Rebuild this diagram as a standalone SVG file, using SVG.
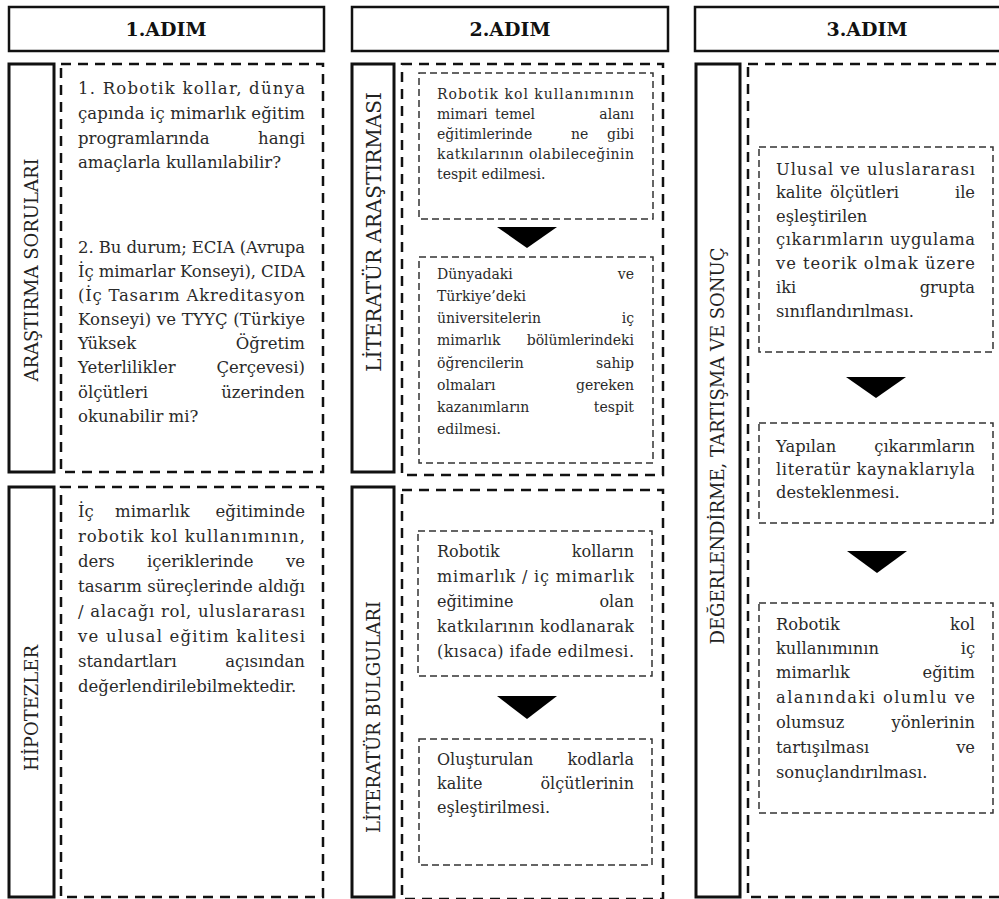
<svg xmlns="http://www.w3.org/2000/svg" width="999" height="899" viewBox="0 0 999 899">
<style>
text{font-family:"DejaVu Serif","Liberation Serif",serif;fill:#2a2a2a}
.hd{font-size:19px;font-weight:bold;text-anchor:middle;fill:#111}
.lb{font-size:18px;text-anchor:middle;fill:#222}
.a{font-size:16.5px}
.b{font-size:14px}
.c{font-size:16px}
.d{font-size:16.3px}
.e{text-anchor:end}
.hbox{fill:#fff;stroke:#111;stroke-width:2.5}
.side{fill:#fff;stroke:#111;stroke-width:3}
.outer{fill:none;stroke:#111;stroke-width:2.5;stroke-dasharray:10 7}
.inner{fill:#fff;stroke:#333;stroke-width:1.5;stroke-dasharray:7 4}
.arr{fill:#000}
</style>
<rect width="999" height="899" fill="#fff"/>

<g id="header1"><rect class="hbox" x="9" y="7" width="315" height="44"/><text class="hd" x="166" y="36">1.ADIM</text></g>
<g id="header2"><rect class="hbox" x="352" y="7" width="316" height="44"/><text class="hd" x="510" y="36">2.ADIM</text></g>
<g id="header3"><rect class="hbox" x="695" y="7" width="345" height="44"/><text class="hd" x="867" y="36">3.ADIM</text></g>

<g id="label-arastirma-sorulari"><rect class="side" x="9" y="64" width="45" height="408"/><text class="lb" transform="translate(38,270) rotate(-90)">ARAŞTIRMA SORULARI</text></g>
<g id="label-hipotezler"><rect class="side" x="9" y="487" width="45" height="410"/><text class="lb" transform="translate(38,708) rotate(-90)">HİPOTEZLER</text></g>
<g id="label-literatur-arastirmasi"><rect class="side" x="352" y="64" width="42" height="408"/><text class="lb" style="font-size:20px" transform="translate(381,232) rotate(-90)">LİTERATÜR ARAŞTIRMASI</text></g>
<g id="label-literatur-bulgulari"><rect class="side" x="352" y="487" width="42" height="410"/><text class="lb" transform="translate(380,717) rotate(-90)">LİTERATÜR BULGULARI</text></g>
<g id="label-degerlendirme"><rect class="side" x="696" y="64" width="44" height="833"/><text class="lb" transform="translate(724,446) rotate(-90)">DEĞERLENDİRME, TARTIŞMA VE SONUÇ</text></g>

<g id="sorular">
<rect class="outer" x="61" y="64" width="262" height="408"/>
<text class="a" x="78" y="94" textLength="227" lengthAdjust="spacing">1. Robotik kollar, dünya</text>
<text class="a" x="78" y="119" textLength="227" lengthAdjust="spacing">çapında iç mimarlık eğitim</text>
<text class="a" x="78" y="144">programlarında</text><text class="a e" x="305" y="144">hangi</text>
<text class="a" x="78" y="168">amaçlarla kullanılabilir?</text>
<text class="a" x="78" y="253" textLength="227" lengthAdjust="spacing">2. Bu durum; ECIA (Avrupa</text>
<text class="a" x="78" y="277" textLength="227" lengthAdjust="spacing">İç mimarlar Konseyi), CIDA</text>
<text class="a" x="78" y="301" textLength="227" lengthAdjust="spacing">(İç Tasarım Akreditasyon</text>
<text class="a" x="78" y="325" textLength="227" lengthAdjust="spacing">Konseyi) ve TYYÇ (Türkiye</text>
<text class="a" x="78" y="349">Yüksek</text><text class="a e" x="305" y="349">Öğretim</text>
<text class="a" x="78" y="373">Yeterlilikler</text><text class="a e" x="305" y="373">Çerçevesi)</text>
<text class="a" x="78" y="398">ölçütleri</text><text class="a e" x="305" y="398">üzerinden</text>
<text class="a" x="78" y="422">okunabilir mi?</text>
</g>

<g id="hipotezler">
<rect class="outer" x="61" y="487" width="262" height="410"/>
<text class="a" x="78" y="517">İç</text><text class="a" x="115" y="517">mimarlık</text><text class="a e" x="305" y="517">eğitiminde</text>
<text class="a" x="78" y="542" textLength="227" lengthAdjust="spacing">robotik kol kullanımının,</text>
<text class="a" x="78" y="567">ders</text><text class="a" x="147" y="567">içeriklerinde</text><text class="a e" x="305" y="567">ve</text>
<text class="a" x="78" y="592" textLength="227" lengthAdjust="spacing">tasarım süreçlerinde aldığı</text>
<text class="a" x="78" y="617" textLength="227" lengthAdjust="spacing">/ alacağı rol, uluslararası</text>
<text class="a" x="78" y="642" textLength="227" lengthAdjust="spacing">ve ulusal eğitim kalitesi</text>
<text class="a" x="78" y="667">standartları</text><text class="a e" x="305" y="667">açısından</text>
<text class="a" x="78" y="692">değerlendirilebilmektedir.</text>
</g>

<g id="literatur-arastirmasi">
<rect class="outer" x="402" y="64" width="261" height="411"/>
</g>
<g id="step2-a">
<rect class="inner" x="419" y="73" width="234" height="146"/>
<text class="b" x="437" y="99" textLength="197" lengthAdjust="spacing">Robotik kol kullanımının</text>
<text class="b" x="437" y="119">mimari</text><text class="b" x="495" y="119">temel</text><text class="b e" x="634" y="119">alanı</text>
<text class="b" x="437" y="139">eğitimlerinde</text><text class="b" x="571" y="139">ne</text><text class="b e" x="634" y="139">gibi</text>
<text class="b" x="437" y="159" textLength="197" lengthAdjust="spacing">katkılarının olabileceğinin</text>
<text class="b" x="437" y="179">tespit edilmesi.</text>
</g>
<g id="step2-b">
<rect class="inner" x="419" y="257" width="234" height="206"/>
<text class="b" x="437" y="279">Dünyadaki</text><text class="b e" x="634" y="279">ve</text>
<text class="b" x="437" y="301">Türkiye’deki</text>
<text class="b" x="437" y="323">üniversitelerin</text><text class="b e" x="634" y="323">iç</text>
<text class="b" x="437" y="345">mimarlık</text><text class="b e" x="634" y="345">bölümlerindeki</text>
<text class="b" x="437" y="368">öğrencilerin</text><text class="b e" x="634" y="368">sahip</text>
<text class="b" x="437" y="390">olmaları</text><text class="b e" x="634" y="390">gereken</text>
<text class="b" x="437" y="412">kazanımların</text><text class="b e" x="634" y="412">tespit</text>
<text class="b" x="437" y="434">edilmesi.</text>
</g>

<g id="literatur-bulgulari">
<rect class="outer" x="402" y="490" width="261" height="409"/>
</g>
<g id="step2-c">
<rect class="inner" x="418" y="531" width="234" height="145"/>
<text class="c" x="437" y="557">Robotik</text><text class="c e" x="634" y="557">kolların</text>
<text class="c" x="437" y="582" textLength="197" lengthAdjust="spacing">mimarlık / iç mimarlık</text>
<text class="c" x="437" y="607">eğitimine</text><text class="c e" x="634" y="607">olan</text>
<text class="c" x="437" y="632" textLength="197" lengthAdjust="spacing">katkılarının kodlanarak</text>
<text class="c" x="437" y="657" textLength="197" lengthAdjust="spacing">(kısaca) ifade edilmesi.</text>
</g>
<g id="step2-d">
<rect class="inner" x="419" y="739" width="233" height="126"/>
<text class="c" x="437" y="765">Oluşturulan</text><text class="c e" x="634" y="765">kodlarla</text>
<text class="c" x="437" y="789">kalite</text><text class="c e" x="634" y="789">ölçütlerinin</text>
<text class="c" x="437" y="813">eşleştirilmesi.</text>
</g>

<g id="degerlendirme">
<rect class="outer" x="748" y="64" width="270" height="833"/>
</g>
<g id="step3-a">
<rect class="inner" x="759" y="147" width="234" height="205"/>
<text class="d" x="776" y="175" textLength="199" lengthAdjust="spacing">Ulusal ve uluslararası</text>
<text class="d" x="776" y="198">kalite</text><text class="d" x="830" y="198">ölçütleri</text><text class="d e" x="975" y="198">ile</text>
<text class="d" x="776" y="222">eşleştirilen</text>
<text class="d" x="776" y="245" textLength="199" lengthAdjust="spacing">çıkarımların uygulama</text>
<text class="d" x="776" y="269" textLength="199" lengthAdjust="spacing">ve teorik olmak üzere</text>
<text class="d" x="776" y="293">iki</text><text class="d e" x="975" y="293">grupta</text>
<text class="d" x="776" y="317">sınıflandırılması.</text>
</g>
<g id="step3-b">
<rect class="inner" x="759" y="423" width="234" height="100"/>
<text class="d" x="776" y="452">Yapılan</text><text class="d e" x="975" y="452">çıkarımların</text>
<text class="d" x="776" y="475" textLength="199" lengthAdjust="spacing">literatür kaynaklarıyla</text>
<text class="d" x="776" y="498">desteklenmesi.</text>
</g>
<g id="step3-c">
<rect class="inner" x="759" y="603" width="234" height="210"/>
<text class="d" x="776" y="630">Robotik</text><text class="d e" x="975" y="630">kol</text>
<text class="d" x="776" y="654">kullanımının</text><text class="d e" x="975" y="654">iç</text>
<text class="d" x="776" y="678">mimarlık</text><text class="d e" x="975" y="678">eğitim</text>
<text class="d" x="776" y="703" textLength="199" lengthAdjust="spacing">alanındaki olumlu ve</text>
<text class="d" x="776" y="728">olumsuz</text><text class="d e" x="975" y="728">yönlerinin</text>
<text class="d" x="776" y="753">tartışılması</text><text class="d e" x="975" y="753">ve</text>
<text class="d" x="776" y="778">sonuçlandırılması.</text>
</g>

<g id="connectors">
<polygon class="arr" points="497,227 557,227 527,248"/>
<polygon class="arr" points="497,696 557,696 527,719"/>
<polygon class="arr" points="846,377 906,377 876,398"/>
<polygon class="arr" points="847,551 907,551 877,573"/>
</g>
</svg>
